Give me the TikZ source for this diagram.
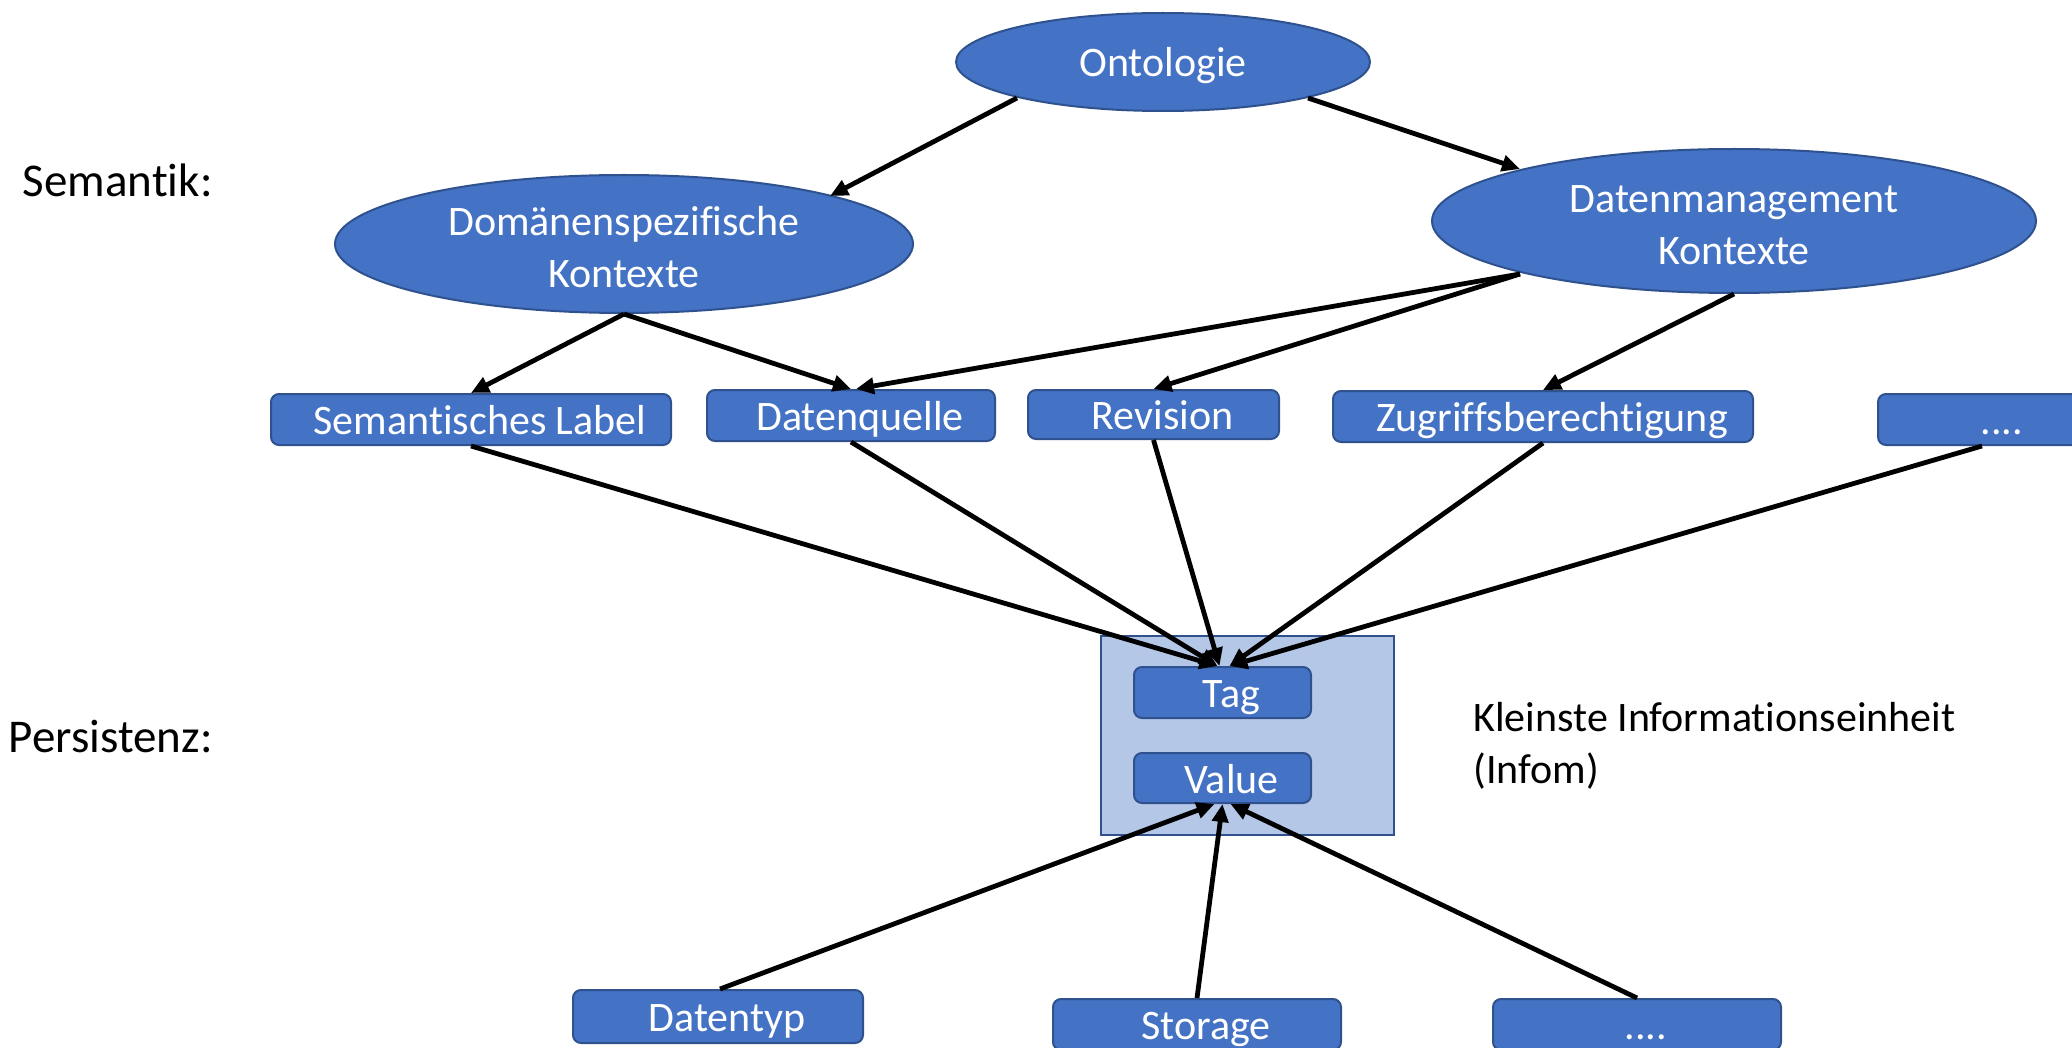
\documentclass[tikz,border=0pt]{standalone}
\usepackage{fontspec}
\setmainfont{Carlito}[Ligatures=NoCommon,Contextuals=NoAlternate,RawFeature={-liga;-clig;-calt}]
\usetikzlibrary{shapes.geometric,arrows.meta,calc}
\definecolor{boxblue}{HTML}{4472C4}
\definecolor{edgeblue}{HTML}{2F528F}
\definecolor{paleblue}{HTML}{B4C7E7}
\newcommand{\topstrut}{\rule{0pt}{17.5pt}}
\begin{document}
\begin{tikzpicture}[x=0.5pt,y=-0.5pt,
  every node/.style={font=\fontsize{21}{25.8}\selectfont},
  concept/.style={ellipse, draw=edgeblue, line width=1pt, fill=boxblue,
    text=white, inner sep=0pt, align=center},
  oneline/.style={text height=19.5pt, text depth=4.5pt},
  tagbox/.style={rectangle, rounded corners=4pt, draw=edgeblue, line width=1pt,
    fill=boxblue, text=white, inner sep=0pt, minimum height=25.5pt,
    oneline, execute at begin node={\hspace*{9pt}}},
  link/.style={line width=2.4pt, -{Triangle[length=9pt,width=8pt]}},
  sidelabel/.style={inner sep=0pt},
  layerlabel/.style={sidelabel, anchor=east, font=\fontsize{23.5}{28}\selectfont}
]
\useasboundingbox (0,0) rectangle (2072,1048);
\fill[white] (0,0) rectangle (2072,1048);

% layer labels
\node[layerlabel] (semlbl) at (213,180) {Semantik:};
\node[layerlabel] (perlbl) at (213,737) {Persistenz:};

% semantic concepts
\node[concept, oneline, minimum width=207pt, minimum height=49pt] (ont) at (1163,62) {Ontologie};
\node[concept, minimum width=289pt, minimum height=69pt] (dom) at (624,244) {\topstrut Domänenspezifische\\Kontexte};
\node[concept, minimum width=302pt, minimum height=72pt] (dm) at (1734,221) {\topstrut Datenmanagement\\Kontexte};

% metadata row
\node[tagbox, minimum width=200pt] (sem) at (471,419.5) {Semantisches Label};
\node[tagbox, minimum width=144pt] (dq) at (851,415.5) {Datenquelle};
\node[tagbox, minimum width=125.5pt, minimum height=24.5pt] (rev) at (1153.5,414.5) {Revision};
\node[tagbox, minimum width=210pt] (zug) at (1543,416.5) {Zugriffsberechtigung};
\node[tagbox, minimum width=115pt] (more1) at (1993,419.5) {....};

% information unit
\node[rectangle, draw=edgeblue, line width=1pt, fill=paleblue, inner sep=0pt,
  minimum width=146.5pt, minimum height=99.5pt] (infom) at (1247.5,735.5) {};
\node[tagbox, minimum width=88.5pt] (tag) at (1222.5,692.5) {Tag};
\node[tagbox, minimum width=88.5pt, minimum height=25pt] (val) at (1222.5,778) {Value};
\node[sidelabel, anchor=west, align=left] (info) at (1473,746) {Kleinste Informationseinheit\\(Infom)};

% persistence row
\node[tagbox, minimum width=145pt, minimum height=26.5pt] (dt) at (718,1016.5) {Datentyp};
\node[tagbox, minimum width=144pt] (sto) at (1197,1024.5) {Storage};
\node[tagbox, minimum width=144pt] (more2) at (1637,1024.5) {....};

% connectors
\draw[link] ($(ont.center)+(-146,36)$) -- ($(dom.center)+(206,-48)$);
\draw[link] ($(ont.center)+(145,36)$) -- ($(dm.center)+(-214,-52)$);
\draw[link] (dom.south) -- (sem.north);
\draw[link] (dom.south) -- (dq.north);
\draw[link] ($(dm.center)+(-214,53)$) -- ($(dq.north)+(5,0)$);
\draw[link] ($(dm.center)+(-214,53)$) -- (rev.north);
\draw[link] (dm.south) -- (zug.north);

\draw[link] (sem.south) -- ($(tag.north)+(-5,0)$);
\draw[link] (dq.south) -- ($(tag.north)+(-5,0)$);
\draw[link] (rev.south) -- ($(tag.north)+(-3,0)$);
\draw[link] (zug.south) -- ($(tag.north)+(7,0)$);
\draw[link] ($(more1.south)+(-11,0)$) -- ($(tag.north)+(7,0)$);

\draw[link] ($(dt.north)+(2,0)$) -- ($(val.south)+(-8,0)$);
\draw[link] (sto.north) -- (val.south);
\draw[link] (more2.north) -- ($(val.south)+(8,0)$);
\end{tikzpicture}
\end{document}
